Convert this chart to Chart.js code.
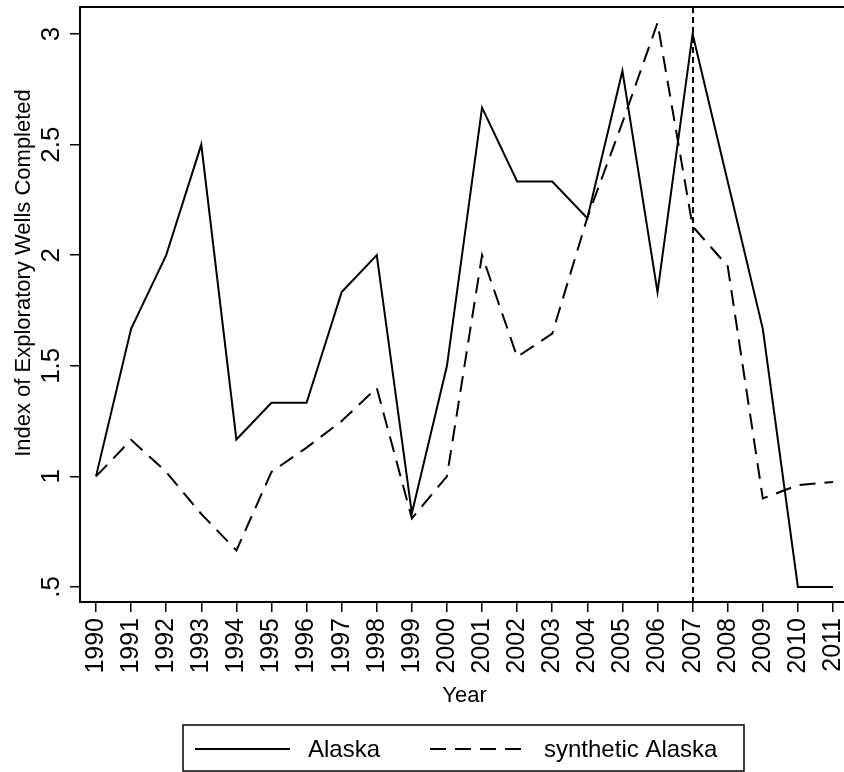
<!DOCTYPE html>
<html>
<head>
<meta charset="utf-8">
<script src="https://cdn.jsdelivr.net/npm/chart.js@4/dist/chart.umd.min.js"></script>
<style>
  html, body { margin: 0; padding: 0; background: #fff; overflow: hidden; }
  canvas { display: block; }
</style>
</head>
<body>
<canvas id="wells" width="852" height="772"></canvas>
<script>
// index of exploratory wells completed, Alaska vs its synthetic control
const years = [1990, 1991, 1992, 1993, 1994, 1995, 1996, 1997, 1998, 1999, 2000,
               2001, 2002, 2003, 2004, 2005, 2006, 2007, 2008, 2009, 2010, 2011];
const alaska = [1.0, 1.667, 2.0, 2.5, 1.167, 1.333, 1.333, 1.833, 2.0, 0.833, 1.5,
                2.667, 2.333, 2.333, 2.167, 2.833, 1.833, 3.0, 2.333, 1.667, 0.5, 0.5];
const syntheticAlaska = [1.0, 1.165, 1.02, 0.83, 0.665, 1.02, 1.13, 1.25, 1.40, 0.81, 1.0,
                         2.0, 1.54, 1.645, 2.17, 2.60, 3.05, 2.13, 1.95, 0.90, 0.96, 0.975];
const seriesNames = ['Alaska', 'synthetic Alaska'];
const yTicks = [0.5, 1, 1.5, 2, 2.5, 3];
const yTickLabels = ['.5', '1', '1.5', '2', '2.5', '3'];
const treatmentYear = 2007;
const yTitle = 'Index of Exploratory Wells Completed';

const FONT = '"Liberation Sans", Arial, Helvetica, sans-serif';
Chart.defaults.color = '#000';
Chart.defaults.font.family = FONT;

const toPoints = (vals) => years.map((yr, i) => ({ x: yr, y: vals[i] }));

// plot frame on all four sides
const framePlugin = {
  id: 'frame',
  afterDraw(chart) {
    const { ctx, chartArea: a } = chart;
    ctx.save();
    ctx.strokeStyle = '#000';
    ctx.lineWidth = 2;
    ctx.strokeRect(a.left, a.top, a.right - a.left, a.bottom - a.top);
    ctx.restore();
  }
};

// y axis title, set a little above the middle of the axis
const yTitlePlugin = {
  id: 'yTitle',
  afterDraw(chart) {
    const { ctx } = chart;
    ctx.save();
    ctx.translate(24, 273);
    ctx.rotate(-Math.PI / 2);
    ctx.fillStyle = '#000';
    ctx.font = '22px ' + FONT;
    ctx.textAlign = 'center';
    ctx.textBaseline = 'middle';
    ctx.fillText(yTitle, 0, 0);
    ctx.restore();
  }
};

// dashed vertical marker at the treatment year
const markerPlugin = {
  id: 'marker',
  afterDatasetsDraw(chart) {
    const { ctx, chartArea: a, scales } = chart;
    const x = Math.round(scales.x.getPixelForValue(treatmentYear));
    ctx.save();
    ctx.strokeStyle = '#000';
    ctx.lineWidth = 2;
    ctx.setLineDash([6, 4]);
    ctx.beginPath();
    ctx.moveTo(x, a.top);
    ctx.lineTo(x, a.bottom);
    ctx.stroke();
    ctx.restore();
  }
};

// boxed legend under the x axis title
const boxLegend = {
  id: 'boxLegend',
  afterDraw(chart) {
    const { ctx } = chart;
    const box = { left: 183, top: 725, right: 744, bottom: 771 };
    const rowY = 749;
    const sampleX = [195, 430];
    const sampleLen = 95;
    const textX = [308, 544];
    ctx.save();
    ctx.strokeStyle = '#000';
    ctx.lineWidth = 1.5;
    ctx.strokeRect(box.left, box.top, box.right - box.left, box.bottom - box.top);
    chart.data.datasets.forEach((ds, i) => {
      ctx.lineWidth = 2;
      ctx.setLineDash(ds.borderDash || []);
      ctx.beginPath();
      ctx.moveTo(sampleX[i], rowY);
      ctx.lineTo(sampleX[i] + sampleLen, rowY);
      ctx.stroke();
      ctx.setLineDash([]);
      ctx.fillStyle = '#000';
      ctx.font = '24px ' + FONT;
      ctx.textBaseline = 'middle';
      ctx.textAlign = 'left';
      ctx.fillText(ds.label, textX[i], rowY + 1);
    });
    ctx.restore();
  }
};

new Chart(document.getElementById('wells'), {
  type: 'line',
  data: {
    datasets: [
      {
        label: seriesNames[0],
        data: toPoints(alaska),
        borderColor: '#000',
        borderWidth: 2,
        pointRadius: 0,
        tension: 0
      },
      {
        label: seriesNames[1],
        data: toPoints(syntheticAlaska),
        borderColor: '#000',
        borderWidth: 2,
        borderDash: [16, 9],
        pointRadius: 0,
        tension: 0
      }
    ]
  },
  options: {
    responsive: false,
    animation: false,
    layout: { padding: { top: 7, left: 0, right: 3, bottom: 63 } },
    plugins: {
      legend: { display: false },
      tooltip: { enabled: false }
    },
    scales: {
      x: {
        type: 'linear',
        min: 1990 - 0.456,
        max: 2011 + 0.456,
        afterBuildTicks: (s) => { s.ticks = years.map((v) => ({ value: v })); },
        afterFit: (s) => { s.height = 107; s.paddingLeft = 0; s.paddingRight = 0; },
        ticks: {
          callback: (v) => String(v),
          autoSkip: false,
          minRotation: 90,
          maxRotation: 90,
          padding: 6,
          font: { size: 25 }
        },
        grid: { drawOnChartArea: false, drawTicks: true, tickLength: 10, color: '#000', lineWidth: 1.5 },
        border: { display: false },
        title: { display: true, text: 'Year', font: { size: 22 }, padding: 0 }
      },
      y: {
        type: 'linear',
        min: 0.432,
        max: 3.122,
        afterBuildTicks: (s) => { s.ticks = yTicks.map((v) => ({ value: v })); },
        afterFit: (s) => { s.width = 80; s.paddingTop = 0; s.paddingBottom = 0; },
        ticks: {
          callback: (v) => yTickLabels[yTicks.indexOf(v)],
          minRotation: 90,
          maxRotation: 90,
          crossAlign: 'center',
          padding: 0,
          font: { size: 26 }
        },
        grid: { drawOnChartArea: false, drawTicks: true, tickLength: 10, color: '#000', lineWidth: 1.5 },
        border: { display: false }
      }
    }
  },
  plugins: [framePlugin, markerPlugin, yTitlePlugin, boxLegend]
});
</script>
</body>
</html>
